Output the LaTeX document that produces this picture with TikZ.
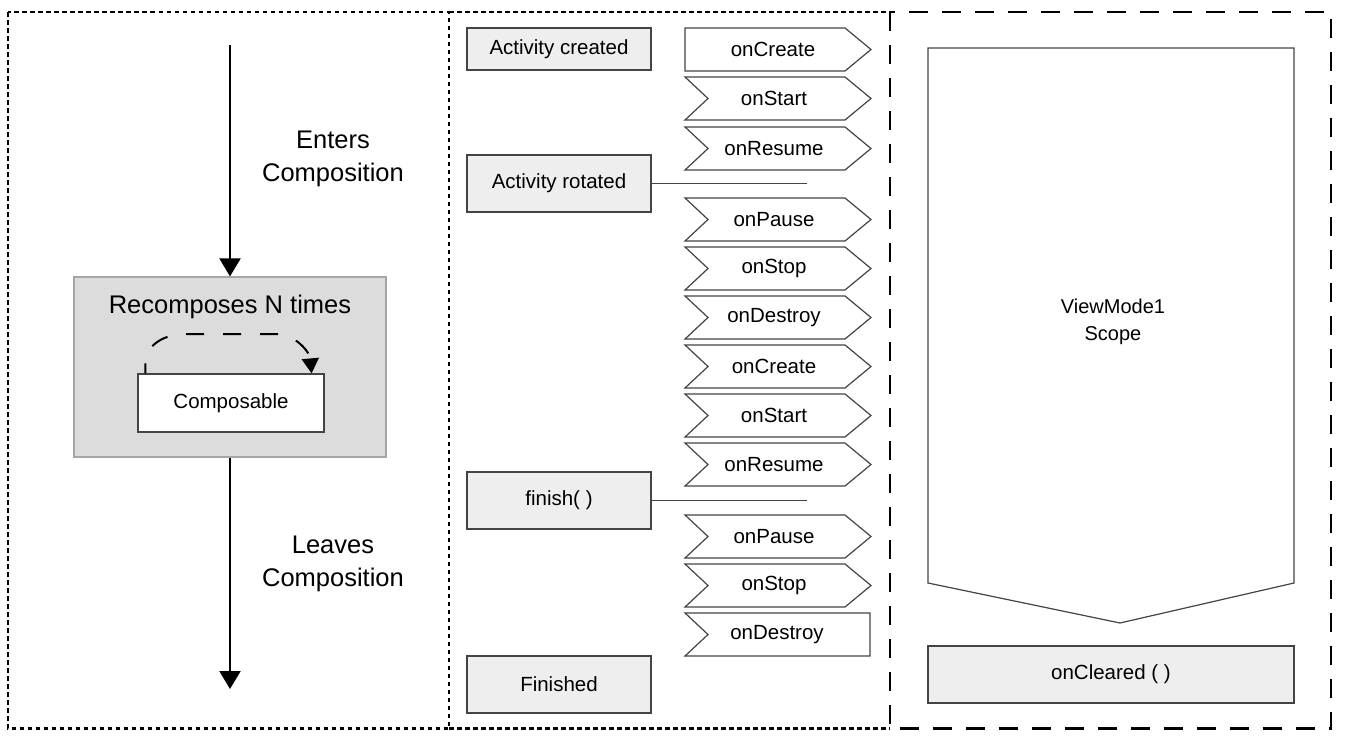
\documentclass[tikz,border=0pt]{standalone}
\usepackage{fontspec}
\setmainfont{Liberation Sans}
\usetikzlibrary{arrows.meta}
\definecolor{boxgray}{HTML}{DCDCDC}
\definecolor{boxedge}{HTML}{A6A6A6}
\definecolor{actfill}{HTML}{EEEEEE}
\definecolor{edge}{HTML}{444444}
\begin{document}
\begin{tikzpicture}[x=1pt,y=1pt,
  lbl/.style={font=\fontsize{20.5}{27}\selectfont},
  big/.style={font=\fontsize{25.5}{33}\selectfont},
  actbox/.style={draw=edge, fill=actfill, line width=1.2pt, minimum width=184pt, inner sep=0pt, lbl},
  chev/.style={draw=edge, fill=white, line width=1.2pt, line join=miter},
  arr/.style={line width=2pt, -{Triangle[width=21pt,length=18pt]}},
  dotborder/.style={line width=2.6pt, dash pattern=on 4.5pt off 3.5pt},
  dashborder/.style={line width=2.8pt, dash pattern=on 19pt off 14pt},
]
\useasboundingbox (0,0) rectangle (1345,-742);
% panel borders
\draw[dotborder] (8,-12) rectangle (449,-728.5);
\draw[dotborder] (449,-12) -- (890,-12);
\draw[dotborder] (449,-728.5) -- (890,-728.5);
\draw[dashborder] (890,-12) rectangle (1331,-728.5);

% left panel
\node[draw=boxedge, fill=boxgray, line width=1.2pt, minimum width=312pt, minimum height=180pt, inner sep=0pt] (rbox) at (230,-367) {};
\node[big, anchor=base] (rtitle) at (230,-313) {Recomposes N times};
\node[draw=edge, fill=white, line width=1.2pt, minimum width=186pt, minimum height=58pt, lbl, inner sep=0pt] (comp) at (231,-403) {Composable};
\coordinate (top) at (230,-45);
\coordinate (bot) at (230,-689);
\draw[arr] (top) -- (rbox.north);
\draw[arr] (rbox.south) -- (bot);
\node[big, align=center] (enter) at (333,-158.7) {Enters\\Composition};
\node[big, align=center] (leave) at (333,-563.7) {Leaves\\Composition};
\draw[line width=2pt, dash pattern=on 18pt off 19pt, dash phase=8pt, -{Triangle[width=17pt,length=15pt]}]
  ([xshift=8pt]comp.north west) -- ++(0,10) to[out=90,in=180] (185,-334) -- (275,-334) to[out=0,in=95] ([xshift=-13pt]comp.north east);

% middle panel
\node[actbox, minimum height=42pt] (created) at (559,-49) {Activity created};
\node[actbox, minimum height=57pt] (rotated) at (559,-183.5) {Activity rotated};
\node[actbox, minimum height=57pt] (finish) at (559,-500.5) {finish( )};
\node[actbox, minimum height=57pt] (finished) at (559,-684.5) {Finished};
\coordinate (rotEnd) at (807,-183.5);
\coordinate (finEnd) at (807,-500.5);
\draw[edge, line width=1.2pt] (rotated) -- (rotEnd);
\draw[edge, line width=1.2pt] (finish) -- (finEnd);

\draw[chev] (685,-28) -- (845,-28) -- (871,-49.5) -- (845,-71) -- (685,-71) -- cycle;
\node[lbl] (c1) at (773,-49.5) {onCreate};
\foreach \t/\lab/\n in {77/onStart/c2, 127/onResume/c3, 198/onPause/c4, 247/onStop/c5, 296/onDestroy/c6, 345/onCreate/c7, 394/onStart/c8, 443/onResume/c9, 515/onPause/c10, 564/onStop/c11}{
  \draw[chev] (685,-\t) -- (845,-\t) -- (871,-\t-21.5) -- (845,-\t-43) -- (685,-\t-43) -- (708,-\t-21.5) -- cycle;
  \node[lbl] (\n) at (774,-\t-21.5) {\lab};
}
\draw[chev] (685,-613) -- (870,-613) -- (870,-656) -- (685,-656) -- (708,-634.5) -- cycle;
\node[lbl] (c12) at (777,-634.5) {onDestroy};

% right panel
\draw[edge, line width=1.2pt, fill=white, line join=miter] (928,-48) -- (1294,-48) -- (1294,-583) -- (1120,-623) -- (928,-583) -- cycle;
\node[font=\fontsize{20}{27}\selectfont, align=center] (vm) at (1113,-321.5) {ViewMode1\\Scope};
\node[actbox, minimum width=366pt, minimum height=57pt] (cleared) at (1111,-674.5) {onCleared ( )};
\end{tikzpicture}
\end{document}
